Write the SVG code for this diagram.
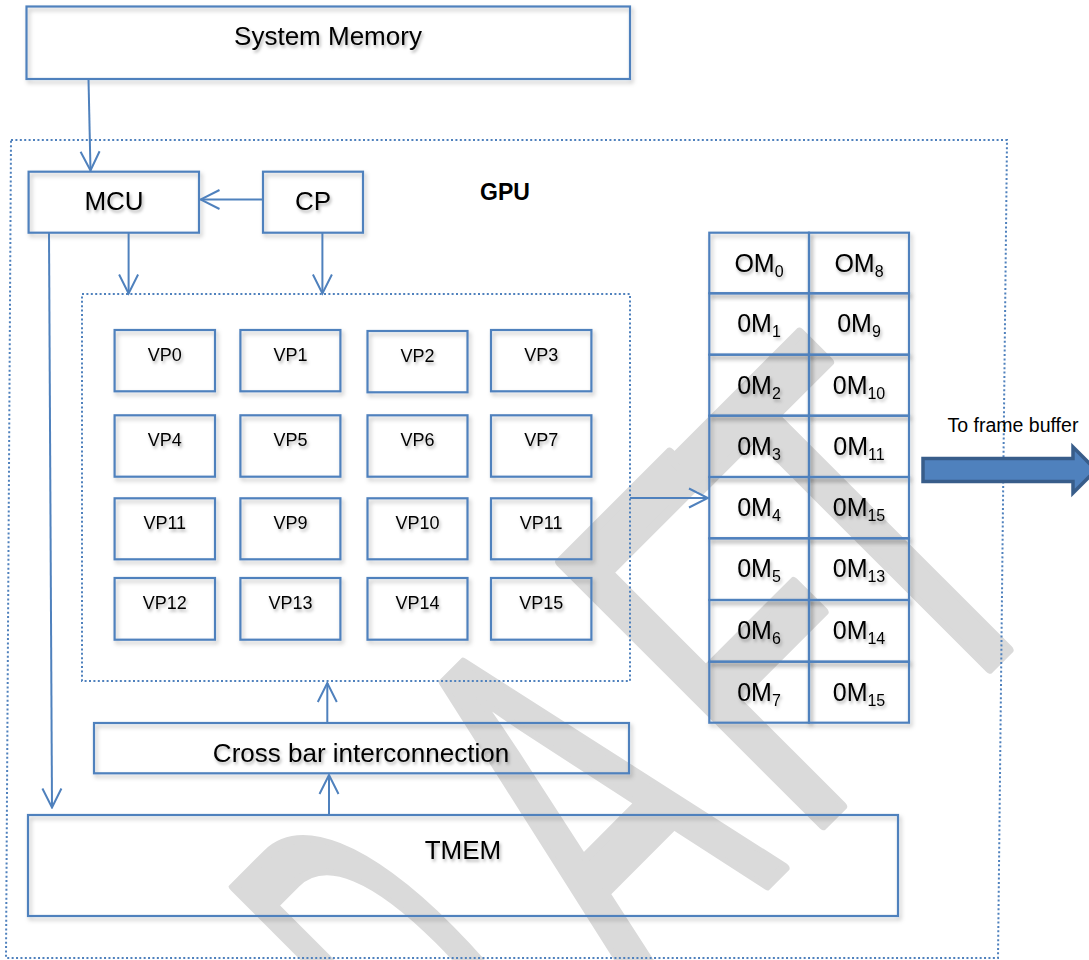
<svg xmlns="http://www.w3.org/2000/svg" width="1089" height="960" viewBox="0 0 1089 960">
<defs>
<style>
.box{fill:none;stroke:#4f81bd;stroke-width:2.2;filter:url(#sh)}
.lbl{font-family:"Liberation Sans",Arial,sans-serif;fill:#000;text-anchor:middle;filter:url(#tsh)}
.big{font-size:26px}
.vp{font-size:18px}
.om{font-size:25px}
.dot{fill:none;stroke:#4f81bd;stroke-width:2;stroke-dasharray:2 2.4}
.con{fill:none;stroke:#4f81bd;stroke-width:2;marker-end:url(#arr)}
</style>
<filter id="sh" x="-10%" y="-20%" width="130%" height="150%">
<feDropShadow dx="2" dy="3" stdDeviation="2" flood-color="#000" flood-opacity="0.25"/>
</filter>
<filter id="tsh" x="-10%" y="-20%" width="130%" height="160%">
<feDropShadow dx="1.5" dy="2.5" stdDeviation="1.6" flood-color="#000" flood-opacity="0.3"/>
</filter>
<marker id="arr" viewBox="-21 -11 23 22" refX="0" refY="0" markerWidth="23" markerHeight="22" markerUnits="userSpaceOnUse" orient="auto">
<path d="M-19,-9.5 L0,0 L-19,9.5" fill="none" stroke="#4f81bd" stroke-width="2"/>
</marker>
</defs>
<rect width="1089" height="960" fill="#fff"/>
<g id="watermark" fill="#dadada" stroke="#dadada" stroke-width="10" stroke-linejoin="round" font-family="Liberation Sans, Arial, sans-serif" font-size="540">
<text transform="translate(482.6,1164.4) rotate(-45) scale(0.4,1)">D</text>
<text text-anchor="middle" transform="translate(716,936) rotate(-45) scale(0.55,1)">A</text>
<text transform="translate(803,845) rotate(-45) scale(0.6,1)">F</text>
<text text-anchor="middle" transform="translate(999,659) rotate(-45) scale(0.6,1)">T</text>
</g>
<g id="gpu">
<path class="dot" d="M11,140 L1007,140 L998,958 L6,958 Z"/>
<text x="505" y="200" style="font-family:'Liberation Sans',Arial,sans-serif;font-weight:bold;font-size:23px;text-anchor:middle">GPU</text>
</g>
<g id="vp-cluster"><rect class="dot" x="82" y="294" width="548" height="387"/></g>
<g id="system-memory"><rect class="box" x="26.5" y="6.5" width="603.5" height="72.5"/><text class="lbl big" x="328" y="45">System Memory</text></g>
<g id="mcu"><rect class="box" x="28.6" y="171.7" width="170.4" height="61"/><text class="lbl big" x="114" y="209.5">MCU</text></g>
<g id="cp"><rect class="box" x="263" y="171.7" width="100" height="61"/><text class="lbl big" x="313" y="209.5">CP</text></g>
<g id="vp0"><rect class="box" x="114.6" y="330" width="100.4" height="61.3"/><text class="lbl vp" x="164.8" y="361">VP0</text></g>
<g id="vp1"><rect class="box" x="240.4" y="330" width="100" height="61.3"/><text class="lbl vp" x="290.4" y="361">VP1</text></g>
<g id="vp2"><rect class="box" x="367.5" y="331" width="100" height="61.3"/><text class="lbl vp" x="417.5" y="362">VP2</text></g>
<g id="vp3"><rect class="box" x="491" y="330" width="100.4" height="61.3"/><text class="lbl vp" x="541.2" y="361">VP3</text></g>
<g id="vp4"><rect class="box" x="114.6" y="415.3" width="100.4" height="61.4"/><text class="lbl vp" x="164.8" y="446">VP4</text></g>
<g id="vp5"><rect class="box" x="240.4" y="415.3" width="100" height="61.4"/><text class="lbl vp" x="290.4" y="446">VP5</text></g>
<g id="vp6"><rect class="box" x="367.5" y="415.3" width="100" height="61.4"/><text class="lbl vp" x="417.5" y="446">VP6</text></g>
<g id="vp7"><rect class="box" x="491" y="415.3" width="100.4" height="61.4"/><text class="lbl vp" x="541.2" y="446">VP7</text></g>
<g id="vp8"><rect class="box" x="114.6" y="498.3" width="100.4" height="61"/><text class="lbl vp" x="164.8" y="529">VP11</text></g>
<g id="vp9"><rect class="box" x="240.4" y="498.3" width="100" height="61"/><text class="lbl vp" x="290.4" y="529">VP9</text></g>
<g id="vp10"><rect class="box" x="367.5" y="498.3" width="100" height="61"/><text class="lbl vp" x="417.5" y="529">VP10</text></g>
<g id="vp11"><rect class="box" x="491" y="498.3" width="100.4" height="61"/><text class="lbl vp" x="541.2" y="529">VP11</text></g>
<g id="vp12"><rect class="box" x="114.6" y="578" width="100.4" height="61.7"/><text class="lbl vp" x="164.8" y="609">VP12</text></g>
<g id="vp13"><rect class="box" x="240.4" y="578" width="100" height="61.7"/><text class="lbl vp" x="290.4" y="609">VP13</text></g>
<g id="vp14"><rect class="box" x="367.5" y="578" width="100" height="61.7"/><text class="lbl vp" x="417.5" y="609">VP14</text></g>
<g id="vp15"><rect class="box" x="491" y="578" width="100.4" height="61.7"/><text class="lbl vp" x="541.2" y="609">VP15</text></g>
<g id="crossbar"><rect class="box" x="94" y="723" width="535" height="50.3"/><text class="lbl big" x="361" y="761.5">Cross bar interconnection</text></g>
<g id="tmem"><rect class="box" x="28" y="815" width="870" height="101"/><text class="lbl big" x="463" y="859">TMEM</text></g>
<g id="om-table">
<g id="om0"><rect class="box" x="709.3" y="232.7" width="99.7" height="60.6"/><text class="lbl om" x="759" y="271.7">OM<tspan font-size="16" dy="5">0</tspan></text></g>
<g id="om8"><rect class="box" x="809" y="232.7" width="100" height="60.6"/><text class="lbl om" x="859" y="271.7">OM<tspan font-size="16" dy="5">8</tspan></text></g>
<g id="om1"><rect class="box" x="709.3" y="293.3" width="99.7" height="61.4"/><text class="lbl om" x="759" y="332.3">0M<tspan font-size="16" dy="5">1</tspan></text></g>
<g id="om9"><rect class="box" x="809" y="293.3" width="100" height="61.4"/><text class="lbl om" x="859" y="332.3">0M<tspan font-size="16" dy="5">9</tspan></text></g>
<g id="om2"><rect class="box" x="709.3" y="354.7" width="99.7" height="61"/><text class="lbl om" x="759" y="393.7">0M<tspan font-size="16" dy="5">2</tspan></text></g>
<g id="om10"><rect class="box" x="809" y="354.7" width="100" height="61"/><text class="lbl om" x="859" y="393.7">0M<tspan font-size="16" dy="5">10</tspan></text></g>
<g id="om3"><rect class="box" x="709.3" y="415.7" width="99.7" height="61.3"/><text class="lbl om" x="759" y="454.7">0M<tspan font-size="16" dy="5">3</tspan></text></g>
<g id="om11"><rect class="box" x="809" y="415.7" width="100" height="61.3"/><text class="lbl om" x="859" y="454.7">0M<tspan font-size="16" dy="5">11</tspan></text></g>
<g id="om4"><rect class="box" x="709.3" y="477" width="99.7" height="61.3"/><text class="lbl om" x="759" y="516">0M<tspan font-size="16" dy="5">4</tspan></text></g>
<g id="om15a"><rect class="box" x="809" y="477" width="100" height="61.3"/><text class="lbl om" x="859" y="516">0M<tspan font-size="16" dy="5">15</tspan></text></g>
<g id="om5"><rect class="box" x="709.3" y="538.3" width="99.7" height="61.7"/><text class="lbl om" x="759" y="577.3">0M<tspan font-size="16" dy="5">5</tspan></text></g>
<g id="om13"><rect class="box" x="809" y="538.3" width="100" height="61.7"/><text class="lbl om" x="859" y="577.3">0M<tspan font-size="16" dy="5">13</tspan></text></g>
<g id="om6"><rect class="box" x="709.3" y="600" width="99.7" height="61.7"/><text class="lbl om" x="759" y="639">0M<tspan font-size="16" dy="5">6</tspan></text></g>
<g id="om14"><rect class="box" x="809" y="600" width="100" height="61.7"/><text class="lbl om" x="859" y="639">0M<tspan font-size="16" dy="5">14</tspan></text></g>
<g id="om7"><rect class="box" x="709.3" y="661.7" width="99.7" height="61"/><text class="lbl om" x="759" y="700.7">0M<tspan font-size="16" dy="5">7</tspan></text></g>
<g id="om15b"><rect class="box" x="809" y="661.7" width="100" height="61"/><text class="lbl om" x="859" y="700.7">0M<tspan font-size="16" dy="5">15</tspan></text></g>
</g>
<g id="frame-buffer-label"><text x="1013" y="432" style="font-family:'Liberation Sans',Arial,sans-serif;font-size:19.5px;text-anchor:middle">To frame buffer</text></g>
<g id="connectors">
<path class="con" d="M88.5,79 L90.5,170.5"/>
<path class="con" d="M263,199.5 L200.5,199.5"/>
<path class="con" d="M128.6,233 L128.6,293.5"/>
<path class="con" d="M322.4,233 L322.4,293.5"/>
<path class="con" d="M49,233 L52,807.5"/>
<path class="con" d="M630,498 L708,498"/>
<path class="con" d="M327.3,723 L327.3,683"/>
<path class="con" d="M329,815 L329,775"/>
<polygon points="923,458.5 1073,458.5 1073,447 1096,470 1073,493 1073,481.5 923,481.5" fill="#4f81bd" stroke="#385d8a" stroke-width="3.5" stroke-linejoin="miter"/>
</g>
</svg>
